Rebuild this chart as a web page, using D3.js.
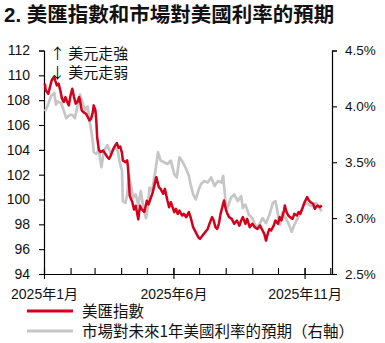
<!DOCTYPE html>
<html>
<head>
<meta charset="utf-8">
<script src="https://cdn.jsdelivr.net/npm/d3@7"></script>
<style>
  html, body { margin: 0; padding: 0; background: #fff; }
  svg { display: block; }
  text { font-family: "Liberation Sans", Arial, "Noto Sans CJK TC", sans-serif; fill: #111; }
</style>
</head>
<body>
<svg id="chart" width="385" height="343"></svg>
<script>
// US dollar index (left axis)
const dxyDates = ["2025-01-02","2025-01-03","2025-01-06","2025-01-08","2025-01-10","2025-01-13","2025-01-14","2025-01-16","2025-01-18","2025-01-20","2025-01-22","2025-01-24","2025-01-26","2025-01-28","2025-01-30","2025-02-01","2025-02-03","2025-02-05","2025-02-07","2025-02-09","2025-02-11","2025-02-12","2025-02-14","2025-02-16","2025-02-19","2025-02-21","2025-02-23","2025-02-25","2025-02-27","2025-02-28","2025-03-02","2025-03-03","2025-03-04","2025-03-06","2025-03-08","2025-03-11","2025-03-13","2025-03-16","2025-03-18","2025-03-20","2025-03-23","2025-03-25","2025-03-27","2025-03-29","2025-03-31","2025-04-02","2025-04-03","2025-04-06","2025-04-08","2025-04-09","2025-04-10","2025-04-11","2025-04-14","2025-04-16","2025-04-18","2025-04-21","2025-04-23","2025-04-25","2025-04-28","2025-05-01","2025-05-03","2025-05-06","2025-05-08","2025-05-10","2025-05-12","2025-05-15","2025-05-17","2025-05-20","2025-05-22","2025-05-25","2025-05-27","2025-05-29","2025-05-31","2025-06-02","2025-06-04","2025-06-06","2025-06-08","2025-06-11","2025-06-13","2025-06-16","2025-06-19","2025-06-21","2025-06-24","2025-06-27","2025-06-30","2025-07-02","2025-07-05","2025-07-08","2025-07-11","2025-07-13","2025-07-16","2025-07-18","2025-07-20","2025-07-22","2025-07-24","2025-07-26","2025-07-28","2025-07-30","2025-08-01","2025-08-03","2025-08-05","2025-08-08","2025-08-11","2025-08-14","2025-08-17","2025-08-19","2025-08-21","2025-08-24","2025-08-26","2025-08-29","2025-09-01","2025-09-04","2025-09-07","2025-09-10","2025-09-13","2025-09-15","2025-09-17","2025-09-19","2025-09-21","2025-09-23","2025-09-26","2025-09-28","2025-10-01","2025-10-03","2025-10-05","2025-10-08","2025-10-09","2025-10-11","2025-10-13","2025-10-15","2025-10-18","2025-10-20","2025-10-23","2025-10-25","2025-10-27","2025-10-30","2025-11-01","2025-11-04","2025-11-06","2025-11-08","2025-11-11","2025-11-13","2025-11-16","2025-11-19","2025-11-21"];
const dxyValues = [109.33,108.79,108.52,109.06,109.60,109.92,109.60,109.19,109.33,108.79,108.12,107.85,108.25,107.85,107.58,108.39,108.92,108.25,107.72,107.85,108.25,107.98,107.18,107.04,106.91,106.64,106.37,106.51,107.04,107.58,107.18,106.37,105.03,104.01,103.82,103.95,103.74,103.41,103.28,103.55,104.09,104.35,104.54,104.17,104.27,103.74,103.15,103.01,103.15,102.61,101.5,100.3,99.8,99.2,99.5,98.4,99.5,99.2,99.0,99.9,99.6,100.2,100.6,101.2,101.8,101.0,100.86,100.46,100.86,99.92,99.38,99.78,99.38,98.98,99.25,98.84,99.11,98.71,98.84,98.58,98.98,98.58,97.77,97.37,96.96,96.83,97.10,97.37,97.63,98.04,98.58,98.31,97.77,97.63,98.04,98.84,99.38,99.92,99.25,98.84,98.58,98.44,98.04,98.31,97.90,98.31,98.58,98.04,98.44,97.77,98.04,97.77,97.63,97.90,97.50,97.23,96.69,97.23,97.63,97.50,97.90,98.31,98.04,98.58,98.31,99.11,99.52,98.98,98.71,98.58,98.44,98.84,98.71,98.98,98.84,99.38,99.78,100.19,99.92,99.78,99.65,99.25,99.52,99.38,99.52];

// Market-implied 1-year US rate expectation, % (right axis)
const rateDates = ["2025-01-02","2025-01-05","2025-01-09","2025-01-13","2025-01-15","2025-01-17","2025-01-21","2025-01-25","2025-01-27","2025-01-31","2025-02-03","2025-02-06","2025-02-09","2025-02-12","2025-02-15","2025-02-18","2025-02-21","2025-02-23","2025-02-25","2025-02-27","2025-02-28","2025-03-03","2025-03-06","2025-03-09","2025-03-12","2025-03-16","2025-03-20","2025-03-24","2025-03-28","2025-03-30","2025-04-02","2025-04-03","2025-04-06","2025-04-08","2025-04-10","2025-04-12","2025-04-15","2025-04-18","2025-04-21","2025-04-24","2025-04-27","2025-04-30","2025-05-02","2025-05-04","2025-05-07","2025-05-11","2025-05-14","2025-05-17","2025-05-21","2025-05-25","2025-05-29","2025-06-02","2025-06-05","2025-06-08","2025-06-12","2025-06-15","2025-06-19","2025-06-21","2025-06-24","2025-06-27","2025-06-30","2025-07-03","2025-07-07","2025-07-11","2025-07-15","2025-07-19","2025-07-23","2025-07-27","2025-07-29","2025-07-31","2025-08-01","2025-08-03","2025-08-07","2025-08-11","2025-08-15","2025-08-19","2025-08-21","2025-08-24","2025-08-28","2025-09-01","2025-09-05","2025-09-09","2025-09-13","2025-09-17","2025-09-21","2025-09-25","2025-09-28","2025-09-30","2025-10-03","2025-10-06","2025-10-10","2025-10-14","2025-10-17","2025-10-20","2025-10-24","2025-10-28","2025-10-31","2025-11-03","2025-11-06","2025-11-10","2025-11-14","2025-11-17","2025-11-21"];
const rateValues = [3.955,4.00,4.09,4.12,4.015,4.045,4.03,3.94,3.894,3.924,3.924,3.894,4.00,4.106,4.03,3.97,4.00,3.879,3.788,3.682,3.591,3.576,3.606,3.455,3.606,3.652,3.576,3.636,3.606,3.515,3.424,3.152,3.136,3.212,3.394,3.303,3.182,3.212,3.121,3.242,3.091,3.00,3.091,3.273,3.242,3.424,3.591,3.515,3.50,3.485,3.515,3.394,3.364,3.545,3.50,3.455,3.379,3.303,3.212,3.167,3.242,3.303,3.333,3.318,3.364,3.288,3.333,3.318,3.379,3.212,3.121,3.091,3.182,3.212,3.152,3.197,3.091,3.121,3.03,3.00,2.924,2.939,3.00,2.955,3.03,3.136,3.152,3.076,2.939,3.045,3.00,2.939,2.879,2.939,3.00,3.061,3.121,3.136,3.121,3.106,3.136,3.106,3.061];

const leftTicks = [94, 96, 98, 100, 102, 104, 106, 108, 110, 112];
const rightTicks = [2.5, 3.0, 3.5, 4.0, 4.5];
const monthTicks = ["2025-01-01","2025-02-01","2025-03-01","2025-04-01","2025-05-01","2025-06-01","2025-07-01","2025-08-01","2025-09-01","2025-10-01","2025-11-01","2025-12-01"];
const labelledMonths = ["2025-01-01","2025-06-01","2025-11-01"];
const monthLabels = ["2025年1月","2025年6月","2025年11月"];

const titleText = "2. 美匯指數和市場對美國利率的預期";
const seriesNames = ["美匯指數", "市場對未來1年美國利率的預期（右軸）"];
const noteUp = "↑ 美元走強";
const noteDown = "↓ 美元走弱";

const RED = "#d2001b";
const GREY = "#c6c6c6";

const parse = d3.utcParse("%Y-%m-%d");
const dxy = dxyDates.map((d, i) => ({ date: parse(d), value: dxyValues[i] }));
const rate = rateDates.map((d, i) => ({ date: parse(d), value: rateValues[i] }));

const svg = d3.select("#chart");
const plotLeft = 44, plotRight = 332, plotTop = 50.5, plotBottom = 274;

const x = d3.scaleUtc().domain([parse("2025-01-01"), parse("2025-12-03")]).range([plotLeft, plotRight]);
const yL = d3.scaleLinear().domain([94, 112]).range([plotBottom, plotTop]);
const yR = d3.scaleLinear().domain([2.5, 4.5]).range([plotBottom, plotTop]);

// title
svg.append("text")
  .attr("x", 4).attr("y", 22)
  .style("font-family", "'Liberation Sans', 'Noto Sans CJK TC', sans-serif")
  .style("font-weight", "bold").style("font-size", "20.5px")
  .text(titleText);

// left axis
const axL = svg.append("g").attr("transform", `translate(${plotLeft},0)`)
  .call(d3.axisLeft(yL).tickValues(leftTicks).tickSize(5).tickPadding(9).tickFormat(d3.format("d")));
// right axis
const axR = svg.append("g").attr("transform", `translate(${plotRight},0)`)
  .call(d3.axisRight(yR).tickValues(rightTicks).tickSize(5).tickPadding(8).tickFormat(d => d.toFixed(1) + "%"));
// bottom axis: monthly inner ticks
const axB = svg.append("g").attr("transform", `translate(0,${plotBottom})`)
  .call(d3.axisBottom(x).tickValues(monthTicks.map(parse)).tickSizeInner(-6).tickSizeOuter(0).tickFormat(""));
// labelled months: ticks that cross the axis
const axB2 = svg.append("g").attr("transform", `translate(0,${plotBottom})`)
  .call(d3.axisBottom(x).tickValues(labelledMonths.map(parse)).tickSize(5).tickPadding(10)
    .tickFormat((d, i) => monthLabels[i]));
axB2.select(".domain").remove();
axB2.selectAll(".tick line").attr("y1", -6);

[axL, axR, axB, axB2].forEach(g => {
  g.selectAll(".domain").attr("stroke", "#000").attr("stroke-width", 1.2);
  g.selectAll(".tick line").attr("stroke", "#000").attr("stroke-width", 1.1);
  g.selectAll(".tick text")
    .style("font-family", "'Liberation Sans', 'Noto Sans CJK TC', sans-serif")
    .style("font-size", "14px").attr("fill", "#111");
});
axR.selectAll(".tick text").style("font-size", "13.5px");

// series
const lineR = d3.line().x(d => x(d.date)).y(d => yR(d.value)).curve(d3.curveLinear);
const lineL = d3.line().x(d => x(d.date)).y(d => yL(d.value)).curve(d3.curveLinear);

svg.append("path").datum(rate)
  .attr("fill", "none").attr("stroke", GREY).attr("stroke-width", 2.7)
  .attr("stroke-linejoin", "round").attr("d", lineR);
svg.append("path").datum(dxy)
  .attr("fill", "none").attr("stroke", RED).attr("stroke-width", 2.5)
  .attr("stroke-linejoin", "round").attr("d", lineL);

// direction notes
const noteFont = "'Noto Sans CJK TC', sans-serif";
svg.append("text").attr("x", 50).attr("y", 59)
  .style("font-family", noteFont).style("font-size", "15px").text(noteUp);
svg.append("text").attr("x", 50).attr("y", 78)
  .style("font-family", noteFont).style("font-size", "15px").text(noteDown);

// legend
const legend = svg.append("g");
const legendColours = [RED, GREY];
const legendY = [311, 331];
seriesNames.forEach((name, i) => {
  legend.append("line")
    .attr("x1", 27).attr("x2", 73).attr("y1", legendY[i]).attr("y2", legendY[i])
    .attr("stroke", legendColours[i]).attr("stroke-width", 3);
  legend.append("text")
    .attr("x", 82).attr("y", legendY[i]).attr("dy", "0.36em")
    .style("font-family", noteFont).style("font-size", "15.5px")
    .text(name);
});
</script>
</body>
</html>
